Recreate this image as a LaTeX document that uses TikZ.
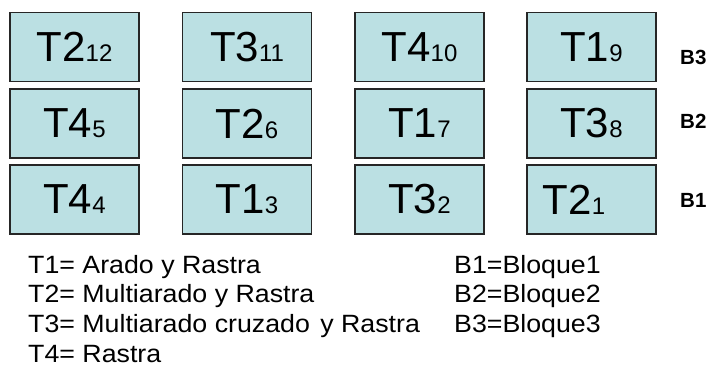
\documentclass[tikz,border=0pt]{standalone}
\usepackage{fontspec}
\setmainfont{Liberation Sans}
\newfontfamily\legendfont[FakeStretch=1.07]{Liberation Sans}
\definecolor{cellfill}{RGB}{187,224,227}
\newcommand{\Tlab}[2]{{\fontsize{42}{42}\selectfont #1}{\fontsize{24}{24}\selectfont #2}}
\tikzset{
  cell/.style={draw=black!85, line width=1.2pt, fill=cellfill, minimum width=129pt, minimum height=69pt, inner sep=0pt, font=\fontsize{42}{42}\selectfont},
  blab/.style={anchor=west, inner sep=0pt, font=\bfseries\fontsize{20.5}{20.5}\selectfont},
  leg/.style={anchor=base west, inner sep=0pt, font=\legendfont\fontsize{25}{25}\selectfont}
}
\begin{document}
\begin{tikzpicture}[x=1pt,y=-1pt]
\useasboundingbox (0,0) rectangle (713,367);
% row B3
\node[cell] (c11) at (74.5,47) {\Tlab{T2}{12}};
\node[cell] (c12) at (247,47) {\Tlab{T3}{11}};
\node[cell] (c13) at (419.5,47) {\Tlab{T4}{10}};
\node[cell] (c14) at (591.5,47) {\Tlab{T1}{9}};
% row B2
\node[cell] (c21) at (74.5,123.5) {\Tlab{T4}{5}};
\node[cell] (c22) at (247,123.5) {\Tlab{T2}{6}};
\node[cell] (c23) at (419.5,123.5) {\Tlab{T1}{7}};
\node[cell] (c24) at (591.5,123.5) {\Tlab{T3}{8}};
% row B1
\node[cell] (c31) at (74.5,199.5) {\Tlab{T4}{4}};
\node[cell] (c32) at (247,199.5) {\Tlab{T1}{3}};
\node[cell] (c33) at (419.5,199.5) {\Tlab{T3}{2}};
\node[cell] (c34) at (591.5,199.5) {\Tlab{T2}{1}\hspace*{35pt}};
% block labels
\node[blab] (b3) at (680,57) {B3};
\node[blab] (b2) at (680,121) {B2};
\node[blab] (b1) at (680,200) {B1};
% legend
\node[leg] (l1) at (28,273) {T1= Arado y Rastra};
\node[leg] (l2) at (28,302.7) {T2= Multiarado y Rastra};
\node[leg] (l3) at (28,332.4) {T3= Multiarado cruzado\kern3pt\ y Rastra};
\node[leg] (l4) at (28,362.1) {T4= Rastra};
\node[leg] (k1) at (454,273) {B1=Bloque1};
\node[leg] (k2) at (454,302.7) {B2=Bloque2};
\node[leg] (k3) at (454,332.4) {B3=Bloque3};
\end{tikzpicture}
\end{document}
